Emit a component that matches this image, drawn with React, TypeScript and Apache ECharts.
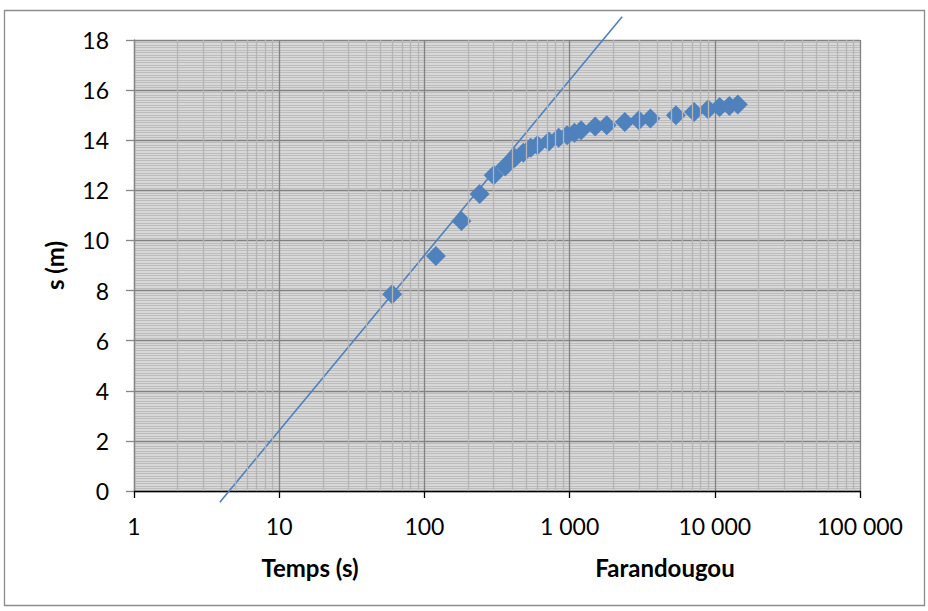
import React, { useEffect, useRef } from "react";
import * as echarts from "echarts";

// Pumping test data (time in seconds, drawdown s in metres)
const times = [60, 120, 180, 240, 300, 360, 420, 480, 540, 600, 720, 840, 960, 1080, 1200, 1500, 1800, 2400, 3000, 3600, 5400, 7200, 9000, 10800, 12600, 14400];
const drawdown = [7.85, 9.38, 10.78, 11.85, 12.6, 12.95, 13.3, 13.5, 13.7, 13.8, 13.95, 14.1, 14.2, 14.3, 14.4, 14.55, 14.6, 14.73, 14.8, 14.87, 15.0, 15.13, 15.24, 15.33, 15.37, 15.43];

// Straight-line fit (Jacob) end points
const trendTimes = [3.9, 2300];
const trendValues = [-0.45, 18.93];

// Axis tick labels
const xTickValues = [1, 10, 100, 1000, 10000, 100000];
const xTickLabels = ["1", "10", "100", "1 000", "10 000", "100 000"];
const yTickValues = [0, 2, 4, 6, 8, 10, 12, 14, 16, 18];

const xTitle = "Temps (s)";
const yTitle = "s (m)";
const siteName = "Farandougou";

// minor vertical grid positions (2..9 within each decade)
const minorMultipliers = [2, 3, 4, 5, 6, 7, 8, 9];

export default function App() {
  const ref = useRef<HTMLDivElement>(null);

  useEffect(() => {
    if (!ref.current) return;
    const chart = echarts.init(ref.current, undefined, { renderer: "svg" });

    const minorX: number[] = [];
    for (let d = 0; d < xTickValues.length - 1; d++) {
      for (const m of minorMultipliers) minorX.push(xTickValues[d] * m);
    }

    const font = "Lato, 'Open Sans', sans-serif";
    const blue = "#4F81BD";

    const option: any = {
      animation: false,
      backgroundColor: "#ffffff",
      grid: {
        left: 134,
        right: 68,
        top: 40,
        bottom: 120,
        containLabel: false,
        show: true,
        backgroundColor: "#d8d8d8",
        borderWidth: 0,
      },
      xAxis: {
        type: "log",
        logBase: 10,
        min: 1,
        max: 100000,
        axisLine: { show: true, onZero: false, lineStyle: { color: "#000000", width: 1.3 } },
        axisTick: { show: true, length: 7, lineStyle: { color: "#000000", width: 1.3 } },
        axisLabel: {
          margin: 23,
          fontFamily: font,
          fontSize: 23,
          color: "#000000",
          formatter: (v: number) => {
            const i = Math.round(Math.log10(v));
            return xTickLabels[i] ?? "";
          },
        },
        splitLine: { show: true, lineStyle: { color: "#828282", width: 1.3 } },
      },
      yAxis: {
        type: "value",
        min: yTickValues[0],
        max: yTickValues[yTickValues.length - 1],
        interval: 2,
        axisLine: { show: true, lineStyle: { color: "#868686", width: 1.3 } },
        axisTick: { show: true, length: 8, lineStyle: { color: "#868686", width: 1.3 } },
        axisLabel: { margin: 25, fontFamily: font, fontSize: 23, color: "#000000" },
        splitLine: { show: true, lineStyle: { color: "#828282", width: 1.3 } },
        minorTick: { show: false, splitNumber: 20 },
        minorSplitLine: { show: true, lineStyle: { color: "#bcbcbc", width: 1 } },
        name: yTitle,
        nameLocation: "middle",
        nameRotate: 90,
        nameGap: 68,
        nameTextStyle: { fontFamily: font, fontSize: 24, fontWeight: "bold", color: "#000000" },
      },
      series: [
        {
          type: "line",
          data: [],
          z: 1,
          silent: true,
          markLine: {
            silent: true,
            symbol: "none",
            label: { show: false },
            lineStyle: { color: "#b4b4b4", width: 1.3, type: "solid" },
            data: minorX.map((v) => ({ xAxis: v })),
          },
        },
        {
          type: "line",
          data: trendTimes.map((t, i) => [t, trendValues[i]]),
          clip: false,
          symbol: "none",
          z: 3,
          lineStyle: { color: blue, width: 1.6 },
        },
        {
          type: "scatter",
          data: times.map((t, i) => [t, drawdown[i]]),
          symbol: "diamond",
          symbolSize: 20,
          z: 4,
          itemStyle: { color: blue, opacity: 1 },
        },
      ],
      graphic: [
        {
          type: "rect",
          shape: { x: 4.5, y: 10.5, width: 920, height: 595 },
          style: { fill: "none", stroke: "#8c8c8c", lineWidth: 1.3 },
          silent: true,
        },
        {
          type: "text",
          x: 310,
          y: 567,
          style: {
            text: xTitle,
            fontFamily: font,
            fontSize: 24,
            fontWeight: "bold",
            fill: "#000000",
            align: "center",
            verticalAlign: "middle",
          },
        },
        {
          type: "text",
          x: 665,
          y: 567,
          style: {
            text: siteName,
            fontFamily: font,
            fontSize: 24,
            fontWeight: "bold",
            fill: "#000000",
            align: "center",
            verticalAlign: "middle",
          },
        },
      ],
    };

    chart.setOption(option);
    return () => chart.dispose();
  }, []);

  return (
    <div
      ref={ref}
      style={{ position: "fixed", left: 0, top: 0, width: 928, height: 611 }}
    />
  );
}
